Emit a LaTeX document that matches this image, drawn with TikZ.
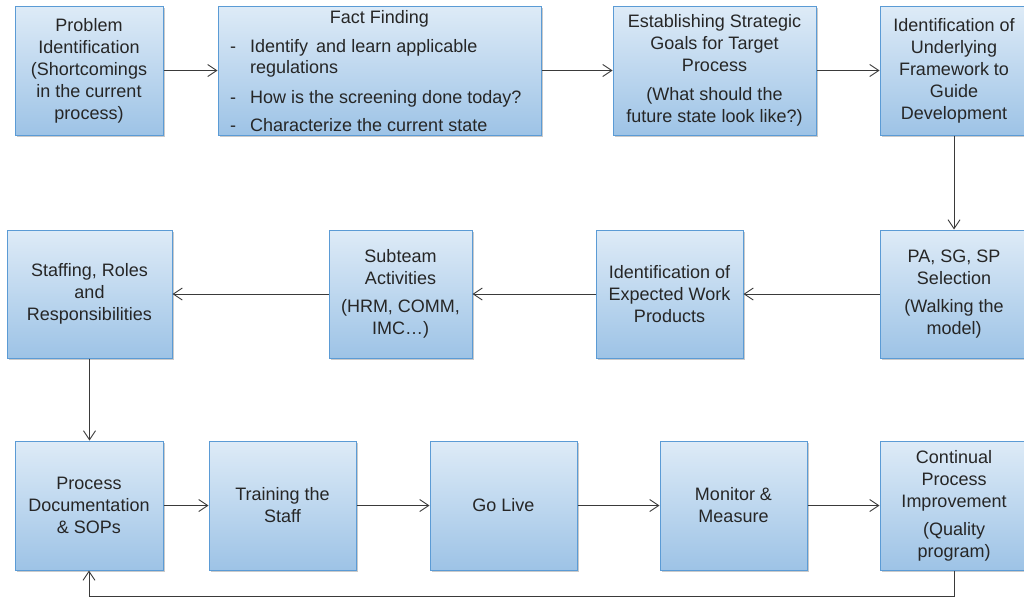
\documentclass[tikz,border=0pt]{standalone}
\usepackage{fontspec}
\setmainfont{Liberation Sans}
\usetikzlibrary{arrows.meta,shadows}
\definecolor{boxtop}{HTML}{DEEBF7}
\definecolor{boxbot}{HTML}{9DC3E6}
\definecolor{boxline}{HTML}{5B9BD5}
\definecolor{txtc}{HTML}{262626}
\definecolor{arrc}{HTML}{3A3A3A}
\tikzset{
  box/.style={draw=boxline, line width=1pt, top color=boxtop, bottom color=boxbot,
    drop shadow={shadow xshift=1.5pt, shadow yshift=-2pt, opacity=0.35, fill=black!60},
    inner sep=0pt, minimum height=129pt, text=txtc, align=center,
    font=\fontsize{18}{22}\selectfont},
  txt/.style={text=txtc, inner sep=0pt, font=\fontsize{18}{22}\selectfont},
  arr/.style={draw=arrc, line width=0.9pt, -{Straight Barb[length=9pt,width=12pt]}},
}
\begin{document}
\begin{tikzpicture}[x=1pt,y=-1pt]
\useasboundingbox (0,0) rectangle (1024,598);
\begin{scope}
\clip (0,0) rectangle (1024,598);
% row 1
\node[box, minimum width=148pt] (b1) at (89,70.5) {Problem\\Identification\\(Shortcomings\\in the current\\process)};
\node[box, minimum width=323pt] (b2) at (379.5,70.5) {};
\node[txt, anchor=base] (ff) at (379.5,23) {Fact Finding};
\node[txt, anchor=base] (d1) at (233,52) {-};
\node[txt, anchor=base west] (t1a) at (250,52) {Identify\, and learn applicable};
\node[txt, anchor=base west] (t1b) at (250,73) {regulations};
\node[txt, anchor=base] (d2) at (233,103) {-};
\node[txt, anchor=base west] (t2) at (250,103) {How is the screening done today?};
\node[txt, anchor=base] (d3) at (233,131) {-};
\node[txt, anchor=base west] (t3) at (250,131) {Characterize the current state};
\node[box, minimum width=203pt] (b3) at (714.5,70.5) {Establishing Strategic\\Goals for Target\\Process\\[7pt](What should the\\future state look like?)};
\node[box, minimum width=148pt] (b4) at (954,70.5) {Identification of\\Underlying\\Framework to\\Guide\\Development};
% row 2
\node[box, minimum width=165pt, minimum height=128pt] (b5) at (89.5,294) {Staffing, Roles\\and\\Responsibilities};
\node[box, minimum width=143pt, minimum height=128pt] (b6) at (400.5,294) {Subteam\\Activities\\[6pt](HRM, COMM,\\IMC…)};
\node[box, minimum width=147pt, minimum height=128pt] (b7) at (669.5,294) {Identification of\\Expected Work\\Products};
\node[box, minimum width=148pt, minimum height=128pt] (b8) at (954,294) {PA, SG, SP\\Selection\\[6pt](Walking the\\model)};
% row 3
\node[box, minimum width=148pt] (b9) at (89,505.5) {Process\\Documentation\\\& SOPs};
\node[box, minimum width=147pt] (b10) at (282.5,505.5) {Training the\\Staff};
\node[box, minimum width=147pt] (b11) at (503.5,505.5) {Go Live};
\node[box, minimum width=147pt] (b12) at (733.5,505.5) {Monitor \&\\Measure};
\node[box, minimum width=148pt] (b13) at (954,505.5) {Continual\\Process\\Improvement\\[6pt](Quality\\program)};
% connectors
\coordinate (loop) at (954,596);
\draw[arr] (b1) -- (b2);
\draw[arr] (b2) -- (b3);
\draw[arr] (b3) -- (b4);
\draw[arr] (b4) -- (b8);
\draw[arr] (b8) -- (b7);
\draw[arr] (b7) -- (b6);
\draw[arr] (b6) -- (b5);
\draw[arr] (b5.south) -- (b5.south |- b9.north);
\draw[arr] (b9) -- (b10);
\draw[arr] (b10) -- (b11);
\draw[arr] (b11) -- (b12);
\draw[arr] (b12) -- (b13);
\draw[arr] (b13.south) -- (loop) -| (b9.south);
\end{scope}
\end{tikzpicture}
\end{document}
